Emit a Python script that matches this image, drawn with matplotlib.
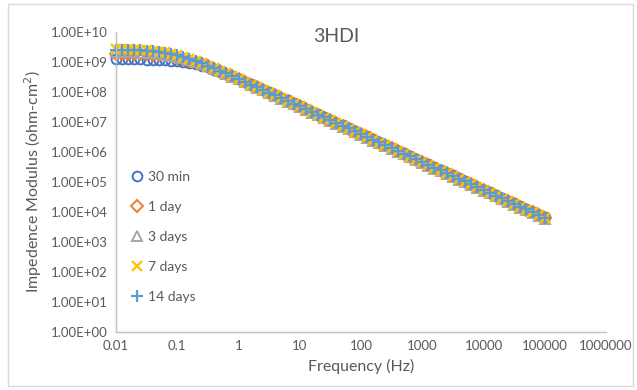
import numpy as np
import matplotlib.pyplot as plt
from matplotlib.patches import Rectangle
from matplotlib.ticker import FixedLocator, FuncFormatter

plt.rcParams['font.family'] = ['Lato', 'DejaVu Sans']

# frequency (Hz), 10 points per decade
freq = [0.01, 0.0126, 0.0158, 0.02, 0.0251, 0.0316, 0.0398, 0.0501, 0.0631, 0.0794,
        0.1, 0.126, 0.158, 0.2, 0.251, 0.316, 0.398, 0.501, 0.631, 0.794,
        1, 1.26, 1.58, 2, 2.51, 3.16, 3.98, 5.01, 6.31, 7.94,
        10, 12.6, 15.8, 20, 25.1, 31.6, 39.8, 50.1, 63.1, 79.4,
        100, 126, 158, 200, 251, 316, 398, 501, 631, 794,
        1000, 1260, 1580, 2000, 2510, 3160, 3980, 5010, 6310, 7940,
        10000, 12600, 15800, 20000, 25100, 31600, 39800, 50100, 63100, 79400,
        100000]

# log10 |Z| (ohm-cm2)
logz_30min = [9.10, 9.10, 9.10, 9.09, 9.09, 9.08, 9.08, 9.07, 9.06, 9.05,
              9.03, 9.00, 8.97, 8.93, 8.88, 8.82, 8.75, 8.68, 8.60, 8.52,
              8.44, 8.35, 8.26, 8.17, 8.08, 7.99, 7.90, 7.81, 7.72, 7.63,
              7.54, 7.45, 7.35, 7.26, 7.17, 7.08, 6.98, 6.89, 6.80, 6.70,
              6.61, 6.52, 6.42, 6.33, 6.24, 6.15, 6.05, 5.96, 5.87, 5.77,
              5.68, 5.59, 5.49, 5.40, 5.31, 5.22, 5.12, 5.03, 4.94, 4.84,
              4.75, 4.66, 4.56, 4.47, 4.38, 4.29, 4.19, 4.10, 4.01, 3.91,
              3.82]
logz_1day = [9.28, 9.28, 9.28, 9.27, 9.27, 9.26, 9.25, 9.24, 9.22, 9.19,
             9.15, 9.11, 9.05, 8.99, 8.93, 8.86, 8.78, 8.69, 8.61, 8.52,
             8.43, 8.34, 8.25, 8.16, 8.07, 7.98, 7.89, 7.80, 7.70, 7.61,
             7.52, 7.43, 7.33, 7.24, 7.15, 7.06, 6.96, 6.87, 6.78, 6.68,
             6.59, 6.50, 6.40, 6.31, 6.22, 6.13, 6.03, 5.94, 5.85, 5.75,
             5.66, 5.57, 5.47, 5.38, 5.29, 5.20, 5.10, 5.01, 4.92, 4.82,
             4.73, 4.64, 4.54, 4.45, 4.36, 4.27, 4.17, 4.08, 3.99, 3.89,
             3.80]
logz_3days = [9.33, 9.33, 9.32, 9.32, 9.31, 9.30, 9.29, 9.27, 9.24, 9.21,
              9.17, 9.12, 9.06, 9.00, 8.93, 8.86, 8.78, 8.69, 8.60, 8.51,
              8.42, 8.32, 8.23, 8.14, 8.05, 7.96, 7.87, 7.78, 7.68, 7.59,
              7.50, 7.41, 7.31, 7.22, 7.13, 7.04, 6.94, 6.85, 6.76, 6.66,
              6.57, 6.48, 6.38, 6.29, 6.20, 6.11, 6.01, 5.92, 5.83, 5.73,
              5.64, 5.55, 5.45, 5.36, 5.27, 5.18, 5.08, 4.99, 4.90, 4.80,
              4.71, 4.62, 4.52, 4.43, 4.34, 4.25, 4.15, 4.06, 3.97, 3.87,
              3.78]
logz_7days = [9.43, 9.42, 9.42, 9.41, 9.40, 9.39, 9.37, 9.35, 9.32, 9.28,
              9.23, 9.17, 9.11, 9.04, 8.96, 8.88, 8.80, 8.71, 8.62, 8.53,
              8.44, 8.34, 8.25, 8.16, 8.07, 7.98, 7.89, 7.80, 7.70, 7.61,
              7.52, 7.43, 7.33, 7.24, 7.15, 7.06, 6.96, 6.87, 6.78, 6.68,
              6.59, 6.50, 6.40, 6.31, 6.22, 6.13, 6.03, 5.94, 5.85, 5.75,
              5.66, 5.57, 5.47, 5.38, 5.29, 5.20, 5.10, 5.01, 4.92, 4.82,
              4.73, 4.64, 4.54, 4.45, 4.36, 4.27, 4.17, 4.08, 3.99, 3.89,
              3.80]
logz_14days = [9.41, 9.41, 9.40, 9.40, 9.39, 9.38, 9.36, 9.34, 9.31, 9.27,
               9.22, 9.17, 9.10, 9.03, 8.96, 8.88, 8.79, 8.71, 8.62, 8.53,
               8.43, 8.34, 8.25, 8.16, 8.07, 7.98, 7.89, 7.80, 7.70, 7.61,
               7.53, 7.44, 7.34, 7.25, 7.16, 7.07, 6.97, 6.88, 6.79, 6.69,
               6.60, 6.51, 6.41, 6.32, 6.23, 6.14, 6.04, 5.95, 5.86, 5.76,
               5.67, 5.58, 5.48, 5.39, 5.30, 5.21, 5.11, 5.02, 4.93, 4.83,
               4.74, 4.65, 4.55, 4.46, 4.37, 4.28, 4.18, 4.09, 4.00, 3.90,
               3.81]

labels = ['30 min', '1 day', '3 days', '7 days', '14 days']
x_ticks = [0.01, 0.1, 1, 10, 100, 1000, 10000, 100000, 1000000]
x_tick_labels = ['0.01', '0.1', '1', '10', '100', '1000', '10000', '100000', '1000000']

series = [
    (logz_30min, dict(marker='o', mfc='none', mec='#4472C4', ms=7, mew=1.4)),
    (logz_1day, dict(marker='D', mfc='none', mec='#ED7D31', ms=6, mew=1.4)),
    (logz_3days, dict(marker='^', mfc='none', mec='#A5A5A5', ms=7.5, mew=1.4)),
    (logz_7days, dict(marker='x', color='#FFC000', ms=7.5, mew=1.6)),
    (logz_14days, dict(marker='+', color='#5B9BD5', ms=9, mew=1.6)),
]

fig = plt.figure(figsize=(6.37, 3.90), dpi=100)
ax = fig.add_axes([116 / 637, 1 - 332 / 390, 490 / 637, 300 / 390])

f = np.array(freq)
for (logz, style), lab in zip(series, labels):
    ax.plot(f, 10 ** np.array(logz), linestyle='none', label=lab, clip_on=False, **style)

ax.set_xscale('log')
ax.set_yscale('log')
ax.set_xlim(0.01, 1000000)
ax.set_ylim(1, 1e10)

ax.xaxis.set_major_locator(FixedLocator(x_ticks))
ax.xaxis.set_major_formatter(FuncFormatter(lambda v, p: x_tick_labels[x_ticks.index(v)] if v in x_ticks else ''))
ax.xaxis.set_minor_locator(FixedLocator([]))
ax.yaxis.set_major_locator(FixedLocator([10.0 ** k for k in range(11)]))
ax.yaxis.set_major_formatter(FuncFormatter(lambda v, p: '%.2E' % v))
ax.yaxis.set_minor_locator(FixedLocator([]))

ax.tick_params(length=0, labelsize=9.5, colors='#595959', pad=6)
for side in ['top', 'right']:
    ax.spines[side].set_visible(False)
for side in ['left', 'bottom']:
    ax.spines[side].set_color('#BFBFBF')
    ax.spines[side].set_linewidth(1.0)

ax.set_xlabel('Frequency (Hz)', fontsize=11.5, color='#595959', labelpad=5)
ax.set_ylabel('Impedence Modulus (ohm-cm$^2$)', fontsize=11.5, color='#595959', labelpad=5)

fig.text(336 / 637, 1 - 37 / 390, '3HDI', ha='center', va='center', fontsize=14, color='#595959')

leg = ax.legend(loc='upper left', bbox_to_anchor=(0.02, 0.555), frameon=False, fontsize=10,
                labelspacing=1.3, handlelength=0.8, handletextpad=0.4, borderaxespad=0)
for t in leg.get_texts():
    t.set_color('#595959')

fig.patches.append(Rectangle((8 / 637, 4 / 390), 625 / 637, 382 / 390, transform=fig.transFigure,
                             fill=False, edgecolor='#D9D9D9', linewidth=1.0))

fig.savefig('out.png', dpi=100)
